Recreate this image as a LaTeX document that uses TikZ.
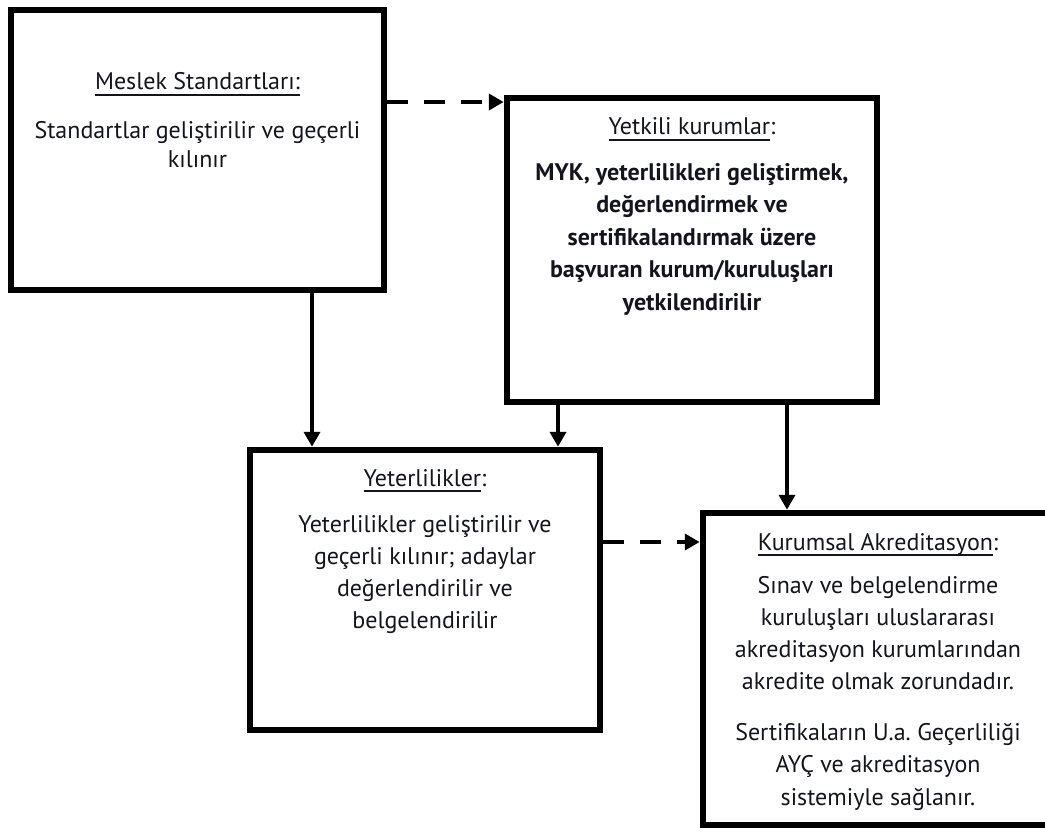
\documentclass[tikz,border=0pt]{standalone}
\usepackage{fontspec}
\setmainfont{PT Sans}
\frenchspacing
\usetikzlibrary{arrows.meta}
\definecolor{ink}{HTML}{14141E}
\newsavebox\ulinebox
\newcommand\ultitle[1]{\sbox\ulinebox{#1}\rlap{\rule[-6pt]{\wd\ulinebox}{1.6pt}}\usebox\ulinebox}
\tikzset{
  panel/.style={draw=black, line width=6.5pt, rectangle, inner sep=0pt},
  title/.style={anchor=base, inner sep=0pt, text=ink, font=\fontsize{24}{32}\selectfont},
  % multi-line texts are placed by the baseline of their last line
  body/.style={anchor=base, inner sep=0pt, text=ink, align=center, font=\fontsize{24}{32}\selectfont},
  flow/.style={line width=4.5pt, -{Triangle[length=15pt,width=16pt]}},
  dflow/.style={flow, dash pattern=on 21pt off 16pt}
}
\begin{document}
\begin{tikzpicture}[x=1pt, y=-1pt]
\useasboundingbox (0,0) rectangle (1045,832);
\begin{scope}
\clip (0,0) rectangle (1045,832);

% boxes
\node[panel, minimum width=373pt, minimum height=280pt] (b1) at (197.5,150) {};
\node[panel, minimum width=370pt, minimum height=304pt] (b2) at (692,250) {};
\node[panel, minimum width=350pt, minimum height=280pt] (b3) at (425,590) {};
\node[panel, minimum width=350pt, minimum height=312pt] (b4) at (878,669) {};

% box texts
\node[title] (t1) at (197.5,90) {\ultitle{Meslek Standartları:}};
\node[body, font=\fontsize{24}{30}\selectfont] (x1) at (197.5,168) {Standartlar geliştirilir ve geçerli\\kılınır};

\node[title] (t2) at (692,135) {\ultitle{Yetkili kurumlar}:};
\node[body, font=\fontsize{24}{32.5}\selectfont\bfseries] (x2) at (692,310)
  {MYK, yeterlilikleri geliştirmek,\\değerlendirmek ve\\sertifikalandırmak üzere\\başvuran kurum/kuruluşları\\yetkilendirilir};

\node[title] (t3) at (425,486) {\ultitle{Yeterlilikler}:};
\node[body, font=\fontsize{24}{31.7}\selectfont] (x3) at (425,628)
  {Yeterlilikler geliştirilir ve\\geçerli kılınır; adaylar\\değerlendirilir ve\\belgelendirilir};

\node[title] (t4) at (878,550) {\ultitle{Kurumsal Akreditasyon}:};
\node[body] (x4) at (878,689)
  {Sınav ve belgelendirme\\kuruluşları uluslararası\\akreditasyon kurumlarından\\akredite olmak zorundadır.};
\node[body, font=\fontsize{24}{32.5}\selectfont] (x5) at (878,805)
  {Sertifikaların U.a.\ Geçerliliği\\AYÇ ve akreditasyon\\sistemiyle sağlanır.};

% connectors
\draw[dflow] ([yshift=48pt]b1.east) -- ([yshift=48pt]b1.east -| b2.west);
\draw[flow] ([xshift=114.5pt]b1.south) -- ([xshift=114.5pt]b1.south |- b3.north);
\draw[flow] ([xshift=-134pt,yshift=3pt]b2.south) -- ([xshift=-134pt]b2.south |- b3.north);
\draw[flow] ([xshift=95pt,yshift=3pt]b2.south) -- ([xshift=95pt]b2.south |- b4.north);
\draw[dflow] ([yshift=48pt]b3.east) -- ([yshift=48pt]b3.east -| b4.west);
\end{scope}
\end{tikzpicture}
\end{document}
